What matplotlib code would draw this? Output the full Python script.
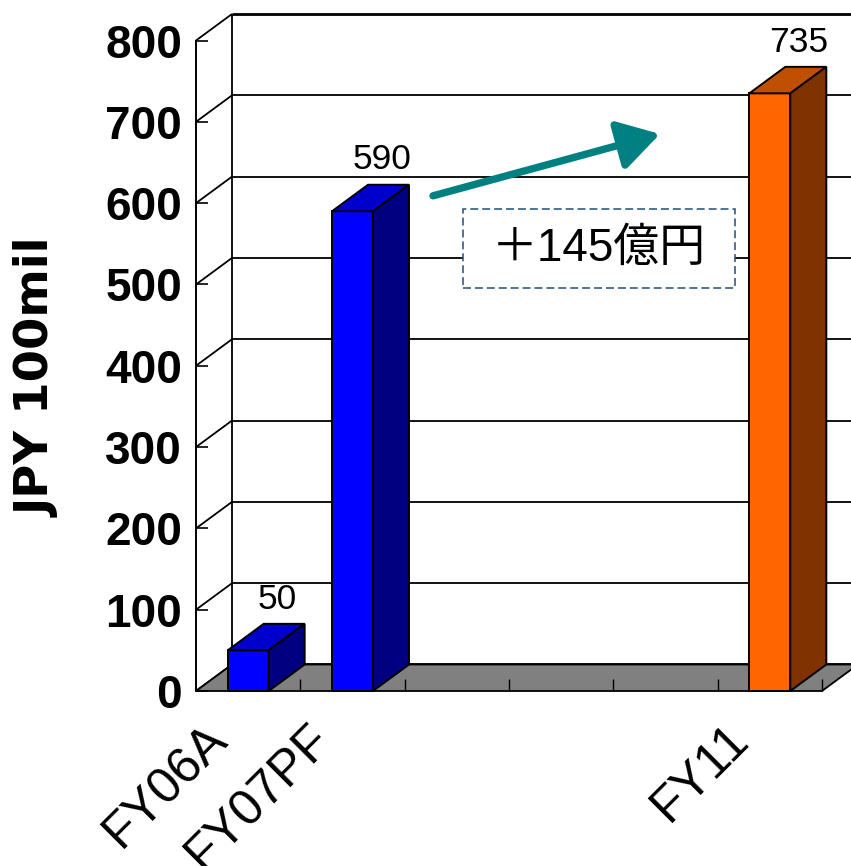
import matplotlib
matplotlib.use("Agg")
import matplotlib.pyplot as plt
from matplotlib.patches import Polygon, Rectangle

# ---- data ----
categories = ["FY06A", "FY07PF", "FY08", "FY09", "FY10", "FY11"]
tick_labels = ["FY06A", "FY07PF", "", "", "", "FY11"]
values = [50, 590, None, None, None, 735]
kinds = ["actual", "actual", None, None, None, "plan"]
y_ticks = [0, 100, 200, 300, 400, 500, 600, 700, 800]
delta_text = "＋145億円"

# ---- styles ----
face_colors = {
    "actual": ("#0000FF", "#0000CC", "#000080"),   # front, top, side
    "plan": ("#FF6600", "#C04F00", "#803300"),
}
DX = 0.345      # depth offset along x (category units)
DY = 32.6       # depth offset along y (value units)
BAR_W = 0.393
n = len(categories)
ymax = y_ticks[-1]

fig = plt.figure(figsize=(8.51, 8.66), dpi=100)
ax = fig.add_axes([196 / 851, 175 / 866, 626 / 851, 650.5 / 866])
ax.set_xlim(0, n)
ax.set_ylim(0, ymax)
ax.patch.set_visible(False)
ax.set_axisbelow(False)
for s in ["top", "right", "bottom"]:
    ax.spines[s].set_visible(False)
ax.spines["left"].set_linewidth(1.4)

# y axis ticks and labels
ax.set_yticks(y_ticks)
ax.set_yticklabels([str(t) for t in y_ticks], fontsize=33, fontweight="bold",
                   family="Liberation Sans")
ax.tick_params(axis="y", direction="in", length=8.6, width=1.2, pad=10)

# category tick marks on the floor edge
ax.set_xticks(range(1, n + 1))
ax.set_xticklabels([])
ax.tick_params(axis="x", direction="in", length=8.5, width=1.0)

line_kw = dict(color="black", clip_on=False, solid_capstyle="butt")

# back wall grid and edges, left wall diagonals
for t in y_ticks:
    lw = 2.0 if t == ymax else 1.3
    ax.plot([DX, n + DX], [t + DY, t + DY], lw=lw, zorder=1, **line_kw)
    ax.plot([0, DX], [t, t + DY], lw=1.3, zorder=1, **line_kw)
ax.plot([DX, DX], [DY, ymax + DY], lw=1.3, zorder=1, **line_kw)

# floor
ax.add_patch(Polygon([(0, 0), (n, 0), (n + DX, DY), (DX, DY)], closed=True,
                     facecolor="#808080", edgecolor="black", lw=1.3,
                     zorder=1.2, clip_on=False))

# 3D bars
for i, (v, k) in enumerate(zip(values, kinds)):
    if v is None:
        continue
    front, top, side = face_colors[k]
    x0 = i + 0.5 - BAR_W / 2
    x1 = i + 0.5 + BAR_W / 2
    polys = [
        ([(x0, 0), (x1, 0), (x1, v), (x0, v)], front),
        ([(x0, v), (x1, v), (x1 + DX, v + DY), (x0 + DX, v + DY)], top),
        ([(x1, 0), (x1 + DX, DY), (x1 + DX, v + DY), (x1, v)], side),
    ]
    for pts, c in polys:
        ax.add_patch(Polygon(pts, closed=True, facecolor=c, edgecolor="black",
                             lw=1.4, joinstyle="miter", zorder=3, clip_on=False))
    ax.annotate(str(v), xy=(i + 0.5 + DX, v + DY), xytext=(-5, 11),
                textcoords="offset points", ha="center", va="baseline",
                fontsize=25.5, family="Liberation Sans", zorder=6,
                annotation_clip=False)

# category labels
for i, lab in enumerate(tick_labels):
    if not lab:
        continue
    ax.annotate(lab, xy=(i + 0.5, 0), xytext=(-14, -36),
                textcoords="offset points", rotation=45,
                rotation_mode="anchor", ha="right", va="baseline",
                fontsize=36, family="Liberation Sans", annotation_clip=False)

# axis title
ax.text(-0.252, 0.481, "JPY 100mil", transform=ax.transAxes, rotation=90,
        ha="center", va="center", fontsize=33.5, fontweight="bold",
        family="DejaVu Sans")

# growth arrow
ax.annotate("", xy=(4.447, 685), xytext=(2.272, 609),
            arrowprops=dict(arrowstyle="-|>,head_length=1.25,head_width=0.75",
                            mutation_scale=20, lw=5.3, color="#008080",
                            shrinkA=0, shrinkB=0),
            annotation_clip=False, zorder=5)

# dashed callout box
bx0, bx1, by0, by1 = 2.559, 5.166, 495.6, 592.8
ax.add_patch(Rectangle((bx0, by0), bx1 - bx0, by1 - by0, facecolor="white",
                       edgecolor="#1F4E79", lw=1.1, linestyle=(0, (5.2, 2.6)),
                       zorder=4, clip_on=False))
ax.text((bx0 + bx1) / 2, (by0 + by1) / 2, delta_text, ha="center",
        va="center", fontsize=33, family=["Liberation Sans", "Noto Sans CJK JP"],
        zorder=5)

fig.savefig("out.png", dpi=100)
